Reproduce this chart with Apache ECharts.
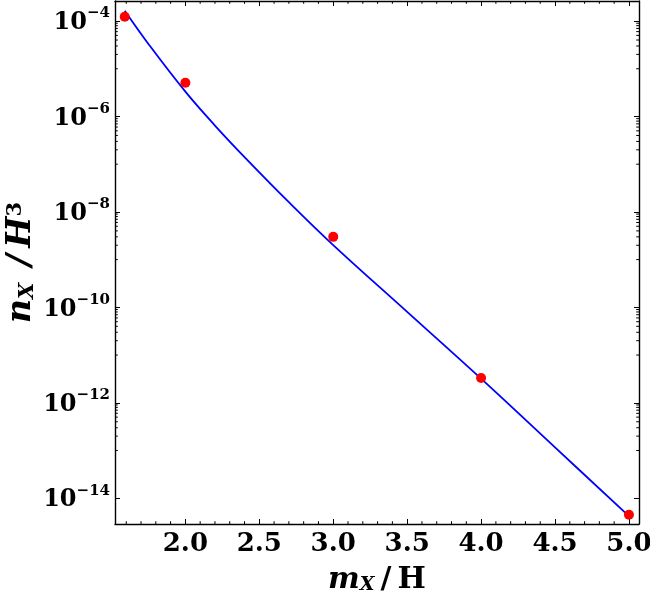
<!DOCTYPE html>
<html>
<head>
<meta charset="utf-8">
<script src="https://cdn.jsdelivr.net/npm/echarts@6/dist/echarts.min.js"></script>
<style>
  html, body { margin: 0; padding: 0; background: #fff; }
  #chart { width: 650px; height: 602px; }
</style>
</head>
<body>
<div id="chart"></div>
<script>
// axis ranges read from the frame
var xMin = 1.524, xMax = 5.068;
var yMin = 2.88e-15, yMax = 2.63e-4;

// blue curve
var curveX = [1.59, 1.75, 2.0, 2.2, 2.4, 2.7, 3.0, 3.5, 4.0, 4.5, 5.0];
var curveY = [1.64e-4, 3.31e-5, 3.31e-6, 6.46e-7, 1.41e-7, 1.6e-8, 2.02e-9, 8.04e-11, 3.2e-12, 1.16e-13, 4.22e-15];

// red points
var ptX = [1.59, 2.0, 3.0, 4.0, 5.0];
var ptY = [1.23e-4, 5.1e-6, 3.0e-9, 3.3e-12, 4.5e-15];

// minor ticks
var xMinor = [1.6, 1.7, 1.8, 1.9, 2.1, 2.2, 2.3, 2.4, 2.6, 2.7, 2.8, 2.9, 3.1, 3.2, 3.3, 3.4,
  3.6, 3.7, 3.8, 3.9, 4.1, 4.2, 4.3, 4.4, 4.6, 4.7, 4.8, 4.9];
var yMinorExp = [-13, -11, -9, -7, -5];
var yMinorMult = [1, 2, 3, 4, 5, 6, 7, 8, 9];

var yMinor = [];
yMinorExp.forEach(function (e) {
  yMinorMult.forEach(function (k) { yMinor.push(k * Math.pow(10, e)); });
});

var chart = echarts.init(document.getElementById("chart"));

var serif = "DejaVu Serif";
var frame = { show: true, onZero: false, lineStyle: { color: "#000", width: 1.4 } };
var majorTick = { show: true, inside: true, length: 5, lineStyle: { color: "#000", width: 1 } };

function yLabel(v) {
  var e = Math.round(Math.log10(v));
  return "{b|10}{s|\u2212" + (-e) + "}";
}

function minorTicks(axis) {
  return function (params, api) {
    var cs = params.coordSys;
    var len = 2.8;
    var style = { stroke: "#000", lineWidth: 1 };
    if (axis === "x") {
      var px = api.coord([api.value(0), yMin])[0];
      return {
        type: "group",
        children: [
          { type: "line", shape: { x1: px, y1: cs.y + cs.height, x2: px, y2: cs.y + cs.height - len }, style: style },
          { type: "line", shape: { x1: px, y1: cs.y, x2: px, y2: cs.y + len }, style: style }
        ]
      };
    }
    var py = api.coord([xMin, api.value(1)])[1];
    return {
      type: "group",
      children: [
        { type: "line", shape: { x1: cs.x, y1: py, x2: cs.x + len, y2: py }, style: style },
        { type: "line", shape: { x1: cs.x + cs.width, y1: py, x2: cs.x + cs.width - len, y2: py }, style: style }
      ]
    };
  };
}

function nameRich(size) {
  var small = Math.round(size * 0.63);
  return {
    i: { fontFamily: serif, fontStyle: "italic", fontWeight: "bold", fontSize: size, color: "#000" },
    n: { fontFamily: serif, fontWeight: "bold", fontSize: size, color: "#000" },
    sub: { fontFamily: serif, fontStyle: "italic", fontWeight: "bold", fontSize: small, color: "#000", verticalAlign: "bottom", lineHeight: small + 3 },
    sup: { fontFamily: serif, fontWeight: "bold", fontSize: small, color: "#000", verticalAlign: "top", lineHeight: small + 1 }
  };
}

var option = {
  animation: false,
  backgroundColor: "#fff",
  grid: { left: 115, right: 11, top: 1, bottom: 78, outerBoundsMode: "none", containLabel: false },
  xAxis: [
    {
      type: "value",
      min: xMin,
      max: xMax,
      splitNumber: 7,
      axisLine: frame,
      axisTick: majorTick,
      splitLine: { show: false },
      axisLabel: {
        margin: 7,
        showMinLabel: false,
        showMaxLabel: false,
        color: "#000",
        fontFamily: serif,
        fontWeight: "bold",
        fontSize: 26,
        formatter: function (v) { return v.toFixed(1); }
      },
      name: "{i|m}{sub|X}{n|\u2009/\u2009H}",
      nameLocation: "middle",
      nameGap: 41,
      nameMoveOverlap: false,
      nameTextStyle: { rich: nameRich(30) }
    },
    {
      type: "value",
      position: "top",
      min: xMin,
      max: xMax,
      splitNumber: 7,
      axisLine: frame,
      axisTick: majorTick,
      axisLabel: { show: false },
      splitLine: { show: false }
    }
  ],
  yAxis: [
    {
      type: "log",
      logBase: 100,
      min: yMin,
      max: yMax,
      axisLine: frame,
      axisTick: majorTick,
      minorTick: { show: false },
      splitLine: { show: false },
      axisLabel: {
        margin: 5,
        showMinLabel: false,
        showMaxLabel: false,
        formatter: yLabel,
        rich: {
          b: { fontFamily: serif, fontWeight: "bold", fontSize: 24, color: "#000", lineHeight: 30, padding: [4, 0, 0, 0] },
          s: { fontFamily: serif, fontWeight: "bold", fontSize: 15, color: "#000", verticalAlign: "top", lineHeight: 16 }
        }
      },
      name: "{i|n}{sub|X}{i|\u2002/\u2009H}{sup|3}",
      nameLocation: "middle",
      nameGap: 77,
      nameMoveOverlap: false,
      nameTextStyle: { rich: nameRich(33) }
    },
    {
      type: "log",
      logBase: 100,
      position: "right",
      min: yMin,
      max: yMax,
      axisLine: frame,
      axisTick: majorTick,
      axisLabel: { show: false },
      splitLine: { show: false }
    }
  ],
  series: [
    {
      type: "line",
      data: curveX.map(function (x, i) { return [x, curveY[i]]; }),
      smooth: 0.4,
      showSymbol: false,
      lineStyle: { color: "#0000ff", width: 1.8 },
      z: 2
    },
    {
      type: "scatter",
      data: ptX.map(function (x, i) { return [x, ptY[i]]; }),
      symbolSize: 10,
      itemStyle: { color: "#ff0000", opacity: 1 },
      z: 3
    },
    {
      type: "custom",
      renderItem: minorTicks("x"),
      data: xMinor.map(function (x) { return [x, yMin]; }),
      silent: true,
      z: 1
    },
    {
      type: "custom",
      renderItem: minorTicks("y"),
      data: yMinor.map(function (y) { return [xMin, y]; }),
      silent: true,
      z: 1
    }
  ]
};

chart.setOption(option);
</script>
</body>
</html>
